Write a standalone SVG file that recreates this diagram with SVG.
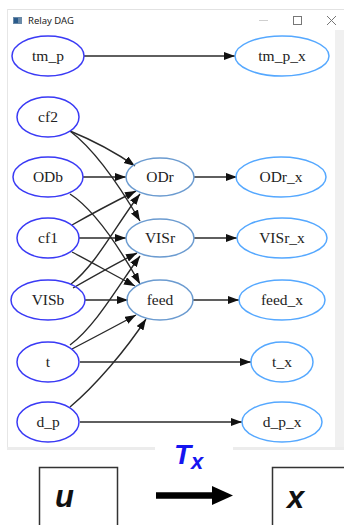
<svg xmlns="http://www.w3.org/2000/svg" width="344" height="525" viewBox="0 0 344 525">
<style>
.nl{fill:none;stroke:#3a3af5;stroke-width:1.5}
.nm{fill:none;stroke:#6b9bd0;stroke-width:1.5}
.nr{fill:none;stroke:#55a8ff;stroke-width:1.5}
.lb{font-family:"Liberation Serif",serif;font-size:15.5px;fill:#222;text-anchor:middle}
.e{fill:none;stroke:#2a2a2a;stroke-width:1.4}
.bt{font-family:"Liberation Sans",sans-serif;font-weight:bold;font-style:italic}
</style>
<defs>
<marker id="ah" markerUnits="userSpaceOnUse" markerWidth="12" markerHeight="10" refX="11" refY="4" orient="auto">
<path d="M0,0 L11,4 L0,8 Z" fill="#111"/>
</marker>
</defs>
<rect width="344" height="525" fill="#fff"/>
<g id="window">
<line x1="7" y1="9.5" x2="344" y2="9.5" stroke="#e2e2e2" stroke-width="1"/>
<line x1="7.5" y1="9" x2="7.5" y2="450" stroke="#e6e6e6" stroke-width="1"/>
<rect x="335" y="30" width="9" height="420" fill="#f0f0f0"/>
<rect x="7" y="447" width="148" height="3" fill="#ececec"/>
<rect x="233" y="447" width="111" height="3" fill="#ececec"/>
<rect x="13" y="17" width="9" height="7" fill="#6a8aa8"/>
<rect x="14" y="18" width="4" height="5" fill="#2a5a8a"/>
<text x="28" y="24" font-family="'Noto Sans','Liberation Sans',sans-serif" font-size="9.5" fill="#222">Relay DAG</text>
<line x1="259" y1="20.5" x2="268" y2="20.5" stroke="#cfcfcf" stroke-width="1"/>
<rect x="293.5" y="16.5" width="8" height="8" fill="none" stroke="#777" stroke-width="1"/>
<path d="M327,16 L336,25 M336,16 L327,25" stroke="#777" stroke-width="1"/>
</g>
<g id="edges">
<path class="e" marker-end="url(#ah)" d="M84,56 L235,56"/>
<path class="e" marker-end="url(#ah)" d="M70,131 C92,140 115,152 135,166"/>
<path class="e" marker-end="url(#ah)" d="M70,131 C95,150 122,190 140,221"/>
<path class="e" marker-end="url(#ah)" d="M83,177 L126,177"/>
<path class="e" marker-end="url(#ah)" d="M70,194 C95,210 122,252 140,284"/>
<path class="e" marker-end="url(#ah)" d="M72,225 C93,213 114,202 136,191"/>
<path class="e" marker-end="url(#ah)" d="M79,238 L126,238"/>
<path class="e" marker-end="url(#ah)" d="M72,252 C93,263 114,275 135,286"/>
<path class="e" marker-end="url(#ah)" d="M71,284 C96,265 118,222 140,194"/>
<path class="e" marker-end="url(#ah)" d="M73,288 C94,276 115,264 137,253"/>
<path class="e" marker-end="url(#ah)" d="M85,300 L128,300"/>
<path class="e" marker-end="url(#ah)" d="M70,345 C96,326 120,283 140,256"/>
<path class="e" marker-end="url(#ah)" d="M72,349 C93,338 114,327 136,315"/>
<path class="e" marker-end="url(#ah)" d="M70,407 C95,386 126,350 146,319"/>
<path class="e" marker-end="url(#ah)" d="M194,177 L237,177"/>
<path class="e" marker-end="url(#ah)" d="M194,238 L237,238"/>
<path class="e" marker-end="url(#ah)" d="M193,300 L239,300"/>
<path class="e" marker-end="url(#ah)" d="M80,362 L251,362"/>
<path class="e" marker-end="url(#ah)" d="M80,422 L242,422"/>
</g>
<g id="tm_p"><ellipse class="nl" cx="48" cy="56" rx="36" ry="20"/><text class="lb" x="48" y="61">tm_p</text></g>
<g id="tm_p_x"><ellipse class="nr" cx="282" cy="56" rx="47" ry="20"/><text class="lb" x="282" y="61">tm_p_x</text></g>
<g id="cf2"><ellipse class="nl" cx="48" cy="117" rx="31" ry="20"/><text class="lb" x="48" y="122">cf2</text></g>
<g id="ODb"><ellipse class="nl" cx="48" cy="177" rx="35" ry="20"/><text class="lb" x="48" y="182">ODb</text></g>
<g id="ODr"><ellipse class="nm" cx="160" cy="177" rx="34" ry="19"/><text class="lb" x="160" y="182">ODr</text></g>
<g id="ODr_x"><ellipse class="nr" cx="281" cy="177" rx="45" ry="20"/><text class="lb" x="281" y="182">ODr_x</text></g>
<g id="cf1"><ellipse class="nl" cx="48" cy="238" rx="31" ry="20"/><text class="lb" x="48" y="243">cf1</text></g>
<g id="VISr"><ellipse class="nm" cx="160" cy="238" rx="34" ry="19"/><text class="lb" x="160" y="243">VISr</text></g>
<g id="VISr_x"><ellipse class="nr" cx="282" cy="238" rx="45" ry="20"/><text class="lb" x="282" y="243">VISr_x</text></g>
<g id="VISb"><ellipse class="nl" cx="48" cy="300" rx="37" ry="20"/><text class="lb" x="48" y="305">VISb</text></g>
<g id="feed"><ellipse class="nm" cx="160" cy="300" rx="33" ry="20"/><text class="lb" x="160" y="305">feed</text></g>
<g id="feed_x"><ellipse class="nr" cx="282" cy="300" rx="43" ry="20"/><text class="lb" x="282" y="305">feed_x</text></g>
<g id="t"><ellipse class="nl" cx="48" cy="362" rx="31" ry="20"/><text class="lb" x="48" y="367">t</text></g>
<g id="t_x"><ellipse class="nr" cx="282" cy="362" rx="31" ry="20"/><text class="lb" x="282" y="367">t_x</text></g>
<g id="d_p"><ellipse class="nl" cx="48" cy="422" rx="31" ry="20"/><text class="lb" x="48" y="427">d_p</text></g>
<g id="d_p_x"><ellipse class="nr" cx="282" cy="422" rx="40" ry="20"/><text class="lb" x="282" y="427">d_p_x</text></g>
<g id="bottom">
<rect x="39.5" y="467.5" width="78" height="70" fill="none" stroke="#333" stroke-width="1.5"/>
<text class="bt" x="55" y="507" font-size="31" fill="#111">u</text>
<rect x="272.5" y="467.5" width="80" height="70" fill="none" stroke="#333" stroke-width="1.5"/>
<text class="bt" x="287" y="508" font-size="31" fill="#111">x</text>
<line x1="156" y1="495.5" x2="216" y2="495.5" stroke="#000" stroke-width="6.5"/>
<path d="M212,486 L233,495.5 L212,505 Z" fill="#000"/>
<text class="bt" x="174" y="464" font-size="28" fill="#1515f0">T</text>
<text class="bt" x="191" y="469" font-size="22" fill="#1515f0">x</text>
</g>
</svg>
